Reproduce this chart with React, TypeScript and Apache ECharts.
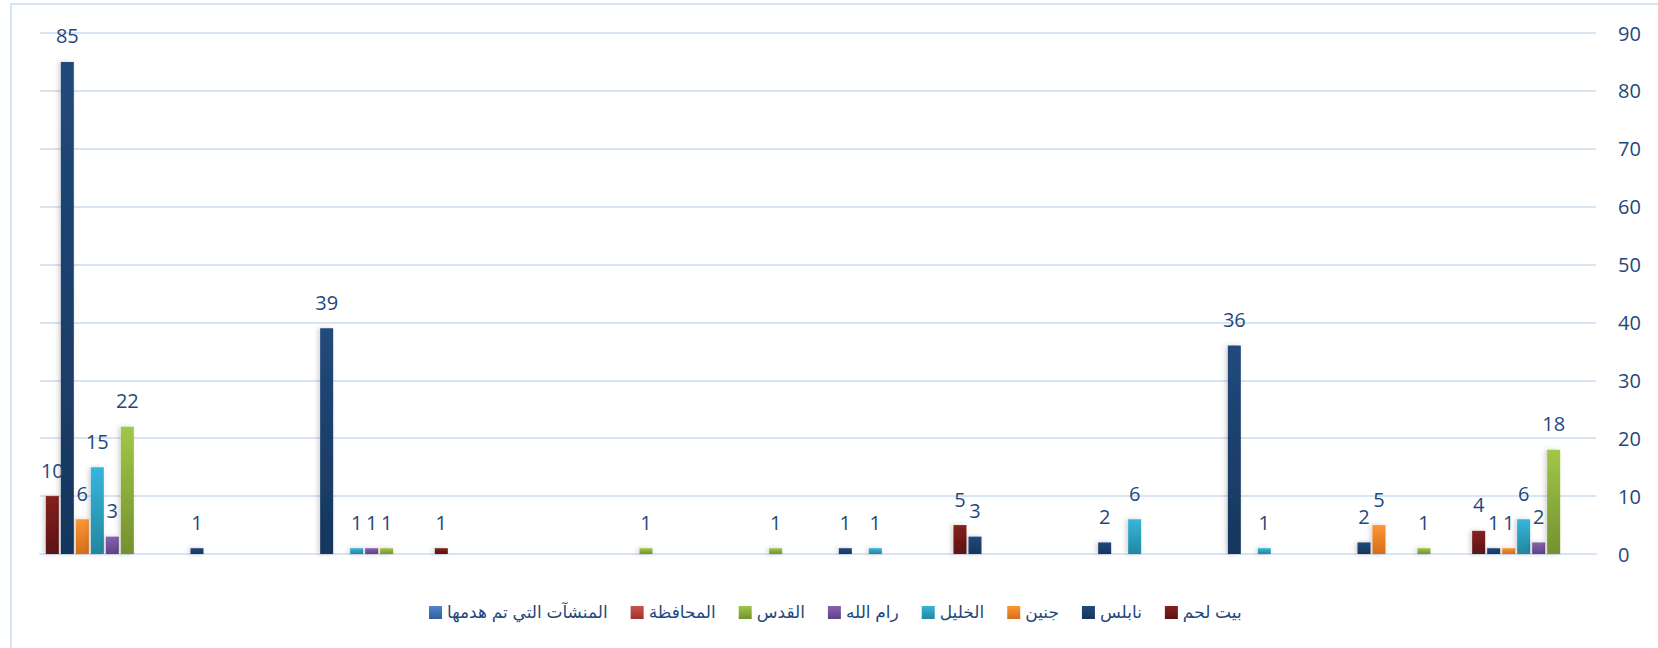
import React, { useEffect, useRef } from "react";
import * as echarts from "echarts";

// categories (12 clusters, left to right as displayed; no visible labels)
const categories = ["1", "2", "3", "4", "5", "6", "7", "8", "9", "10", "11", "12"];

// series values per cluster (null = no bar)
const bethlehem = [10, null, null, 1, null, null, null, 5, null, null, null, 4];
const nablus = [85, 1, 39, null, null, null, 1, 3, 2, 36, 2, 1];
const jenin = [6, null, null, null, null, null, null, null, null, null, 5, 1];
const hebron = [15, null, 1, null, null, null, 1, null, 6, 1, null, 6];
const ramallah = [3, null, 1, null, null, null, null, null, null, null, null, 2];
const jerusalem = [22, null, 1, null, 1, 1, null, null, null, null, 1, 18];
const governorate = [null, null, null, null, null, null, null, null, null, null, null, null];
const demolished = [null, null, null, null, null, null, null, null, null, null, null, null];

const seriesNames = [
  "بيت لحم",
  "نابلس",
  "جنين",
  "الخليل",
  "رام الله",
  "القدس",
  "المحافظة",
  "المنشآت التي تم هدمها",
];
const seriesData = [bethlehem, nablus, jenin, hebron, ramallah, jerusalem, governorate, demolished];
const legendOrder = [
  "المنشآت التي تم هدمها",
  "المحافظة",
  "القدس",
  "رام الله",
  "الخليل",
  "جنين",
  "نابلس",
  "بيت لحم",
];
const yTicks = { min: 0, max: 90, interval: 10 };

const gradients: [string, string][] = [
  ["#86211f", "#5b1312"],
  ["#21497c", "#17365d"],
  ["#fd9634", "#d56d1c"],
  ["#36b6dc", "#23879f"],
  ["#8662af", "#5f4385"],
  ["#a0c748", "#74912e"],
  ["#d0504d", "#9c3330"],
  ["#4f85cc", "#2f5f9e"],
];

const TEXT_COLOR = "#1f497d";
const GRID_COLOR = "#d9e4f2";

export default function App() {
  const ref = useRef<HTMLDivElement>(null);
  useEffect(() => {
    if (!ref.current) return;
    const chart = echarts.init(ref.current, undefined, { renderer: "svg" });
    const grad = (c: [string, string]) =>
      new echarts.graphic.LinearGradient(0, 0, 0, 1, [
        { offset: 0, color: c[0] },
        { offset: 1, color: c[1] },
      ]);
    chart.setOption({
      animation: false,
      backgroundColor: "#ffffff",
      graphic: [
        {
          type: "rect",
          shape: { x: 11, y: 4, width: 1700, height: 700 },
          style: { fill: "none", stroke: "#d6e3f3", lineWidth: 2 },
          silent: true,
        },
      ],
      grid: { left: 40, right: 62, top: 33, bottom: 94, containLabel: false },
      legend: {
        data: legendOrder,
        left: 424,
        top: 599,
        itemWidth: 13,
        itemHeight: 13,
        itemGap: 23,
        icon: "rect",
        textStyle: {
          color: TEXT_COLOR,
          fontSize: 17,
          fontFamily: "Arial, 'DejaVu Sans', sans-serif",
        },
      },
      xAxis: {
        type: "category",
        data: categories,
        axisLine: { show: true, lineStyle: { color: GRID_COLOR, width: 2 } },
        axisTick: { show: false },
        axisLabel: { show: false },
        splitLine: { show: false },
      },
      yAxis: {
        type: "value",
        position: "right",
        min: yTicks.min,
        max: yTicks.max,
        interval: yTicks.interval,
        axisLine: { show: false },
        axisTick: { show: false },
        axisLabel: {
          color: TEXT_COLOR,
          fontSize: 20,
          fontFamily: "'Open Sans', sans-serif",
          margin: 22,
          align: "left",
        },
        splitLine: { lineStyle: { color: GRID_COLOR, width: 2 } },
      },
      series: seriesNames.map((name, i) => ({
        name,
        type: "bar",
        data: seriesData[i],
        barWidth: 13,
        barGap: "15.4%",
        itemStyle: {
          color: grad(gradients[i]),
          shadowColor: "rgba(0,0,0,0.18)",
          shadowBlur: 5,
          shadowOffsetX: -2,
        },
        label: {
          show: true,
          position: "top",
          distance: 16,
          color: TEXT_COLOR,
          fontSize: 20,
          fontFamily: "'Open Sans', sans-serif",
        },
      })),
    });
    return () => chart.dispose();
  }, []);
  return (
    <div
      ref={ref}
      style={{ position: "absolute", left: 0, top: 0, width: 1658, height: 648 }}
    />
  );
}
